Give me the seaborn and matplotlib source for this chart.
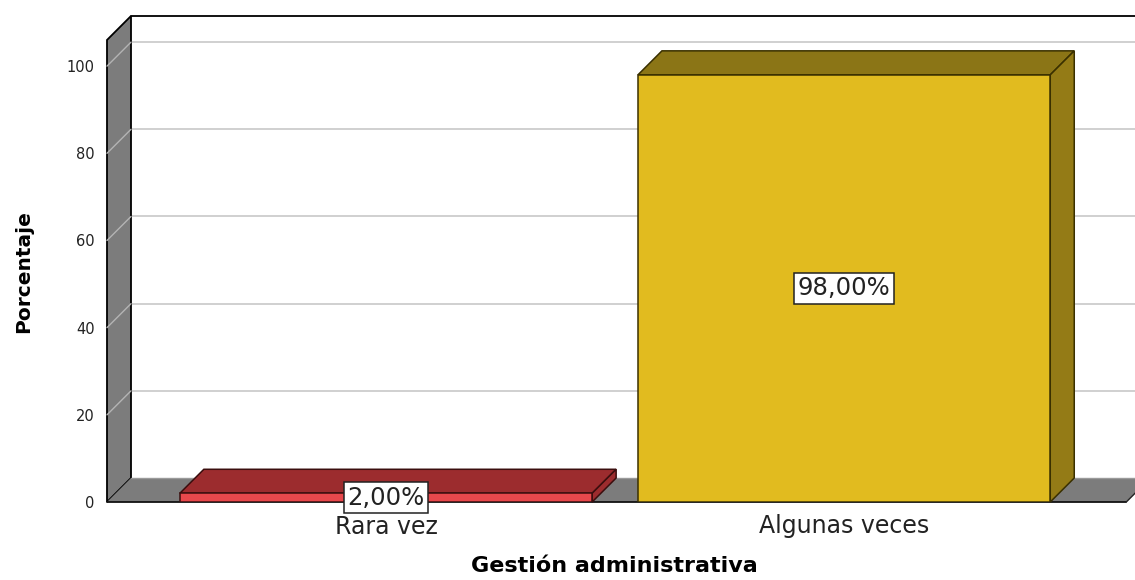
import matplotlib
matplotlib.use("Agg")
import matplotlib.pyplot as plt
from matplotlib.patches import Polygon, Rectangle
import seaborn as sns
import pandas as pd

# Data
categories = ["Rara vez", "Algunas veces"]
percentages = [2.0, 98.0]
front_colors = ["#E8484C", "#E1BB1F"]
top_colors = ["#9C2C2E", "#8B7516"]
side_colors = ["#9C2C2E", "#947B16"]
edge_colors = ["#3A0E0E", "#3A3000"]
y_ticks = [0, 20, 40, 60, 80, 100]

sns.set_theme(style="white")
plt.rcParams["font.family"] = ["DejaVu Sans"]

W, H, DPI = 1135, 580, 100
fig = plt.figure(figsize=(W / DPI, H / DPI), dpi=DPI)
fig.patch.set_facecolor("white")

# Front plane of the 3D box in pixels
left_px, right_px, bottom_px, top_px = 107, 1135, 502, 16
ax = fig.add_axes([left_px / W, (H - bottom_px) / H,
                   (right_px - left_px) / W, (bottom_px - top_px) / H])

df = pd.DataFrame({"cat": categories, "pct": percentages})
sns.barplot(data=df, x="cat", y="pct", hue="cat", palette=front_colors,
            width=0.9, legend=False, ax=ax, zorder=5, saturation=1)

x_min, x_max = -0.609, 1.635
y_max = 111.5
wall_top = 106.0
ax.set_xlim(x_min, x_max)
ax.set_ylim(0, y_max)

# depth offset of the box (24 px in both directions)
px_per_x = (right_px - left_px) / (x_max - x_min)
px_per_y = (bottom_px - top_px) / y_max
dx = 24 / px_per_x
dy = 24 / px_per_y

wall_gray = "#7C7C7C"

# Back wall
ax.add_patch(Rectangle((x_min + dx, dy), (x_max - x_min) + 0.2, wall_top,
                       facecolor="white", edgecolor="none", zorder=0,
                       clip_on=False))
for t in y_ticks[1:]:
    ax.plot([x_min + dx, x_max + 0.2], [t + dy, t + dy], color="#CDCDCD",
            lw=1.3, zorder=1, clip_on=False)
ax.plot([x_min + dx, x_max + 0.2], [wall_top + dy, wall_top + dy],
        color="black", lw=1.3, zorder=2, clip_on=False)

# Left wall
ax.add_patch(Polygon([(x_min, 0), (x_min, wall_top), (x_min + dx, wall_top + dy),
                      (x_min + dx, dy)], closed=True, facecolor=wall_gray,
                     edgecolor="black", lw=1.3, zorder=2, clip_on=False))
for t in y_ticks[1:]:
    ax.plot([x_min, x_min + dx], [t, t + dy], color="#B4B4B4", lw=1.0,
            zorder=3, clip_on=False)

# Floor
floor_right = 1.616
ax.add_patch(Polygon([(x_min, 0), (x_min + dx, dy), (floor_right + dx, dy),
                      (floor_right, 0)], closed=True, facecolor=wall_gray,
                     edgecolor="none", zorder=2, clip_on=False))
ax.plot([x_min, floor_right], [0, 0], color="#111111", lw=1.3, zorder=3,
        clip_on=False)
ax.plot([x_min + dx, floor_right + dx], [dy, dy], color="#9A9A9A", lw=1.0,
        zorder=3, clip_on=False)
ax.plot([floor_right, floor_right + dx], [0, dy], color="#222222", lw=1.0,
        zorder=3, clip_on=False)

# Bars: faces in depth plus value labels
for i, bar in enumerate(ax.patches[:len(categories)]):
    x0 = bar.get_x()
    x1 = x0 + bar.get_width()
    h = bar.get_height()
    bar.set_edgecolor(edge_colors[i])
    bar.set_linewidth(1.1)
    top = Polygon([(x0, h), (x0 + dx, h + dy), (x1 + dx, h + dy), (x1, h)],
                  closed=True, facecolor=top_colors[i],
                  edgecolor=edge_colors[i], lw=1.1, zorder=4, clip_on=False)
    side = Polygon([(x1, 0), (x1, h), (x1 + dx, h + dy), (x1 + dx, dy)],
                   closed=True, facecolor=side_colors[i],
                   edgecolor=edge_colors[i], lw=1.1, zorder=4, clip_on=False)
    ax.add_patch(top)
    ax.add_patch(side)
    label = f"{percentages[i]:.2f}%".replace(".", ",")
    ax.text((x0 + x1) / 2, h / 2, label, ha="center", va="center",
            fontsize=17.5, color="#222222", zorder=8,
            bbox=dict(boxstyle="square,pad=0.14", facecolor="white",
                      edgecolor="#222222", lw=1.1))

# Axes styling
for s in ax.spines.values():
    s.set_visible(False)
ax.set_facecolor("none")
ax.set_yticks(y_ticks)
ax.set_yticklabels([str(t) for t in y_ticks])
ax.tick_params(axis="y", length=0, pad=9, labelsize=10.5, labelcolor="#222222")
ax.tick_params(axis="x", length=0, pad=9, labelsize=17, labelcolor="#222222")

ax.set_xlabel("Gestión administrativa", fontsize=16, fontweight="bold",
              color="black")
ax.xaxis.set_label_coords((614 - left_px) / (right_px - left_px),
                          (bottom_px - 556) / (bottom_px - top_px))
ax.set_ylabel("Porcentaje", fontsize=14.5, fontweight="bold", color="black")
ax.yaxis.label.set_va("center")
ax.yaxis.set_label_coords((23.5 - left_px) / (right_px - left_px),
                          (bottom_px - 272) / (bottom_px - top_px))

fig.savefig("out.png", dpi=DPI, facecolor="white")
